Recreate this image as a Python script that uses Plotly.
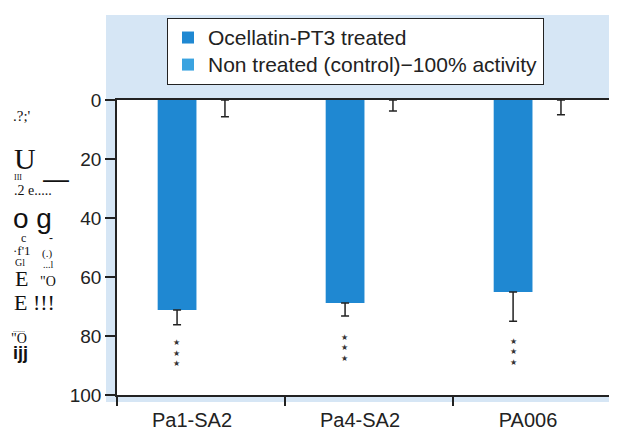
import plotly.graph_objects as go

categories = ["Pa1-SA2", "Pa4-SA2", "PA006"]
treated = [71.2, 68.8, 65.1]
treated_err = [5.0, 4.4, 9.9]
control = [0, 0, 0]
control_err = [5.7, 3.7, 5.0]
star_y = [85.8, 84.0, 85.4]
y_ticks = [0, 20, 40, 60, 80, 100]
series_names = ["Ocellatin-PT3 treated", "Non treated (control)\u2212100% activity"]

BAR = "#1f88d2"
CTRL = "#3aa3e0"
INK = "#222222"

# page has an 8px body margin: figure is drawn at (8, 8)
OFF = 8
W, H = 617 - OFF, 428 - OFF
L, R, T, B = 117 - OFF, 0, 100 - OFF, 33

def px(x, y):
    """reference-screen pixel -> paper coords"""
    x -= OFF
    y -= OFF
    return (x - L) / (W - L - R), (H - B - y) / (H - T - B)

def big(name):
    return f"<span style='font-size:21px'>{name}</span>"

fig = go.Figure()
fig.add_trace(go.Bar(
    x=categories, y=treated, name=big(series_names[0]),
    marker=dict(color=BAR, line=dict(width=0)),
    error_y=dict(type="data", array=treated_err, arrayminus=[0]*3, symmetric=False,
                 color=INK, thickness=1.5, width=4),
))
fig.add_trace(go.Bar(
    x=categories, y=control, name=big(series_names[1]),
    marker=dict(color=CTRL, line=dict(width=0)),
    error_y=dict(type="data", array=control_err, arrayminus=[0]*3, symmetric=False,
                 color=INK, thickness=1.5, width=4),
))

shapes = []
x0, y0 = px(106, 402)
x1, y1 = px(617, 15)
shapes.append(dict(type="rect", xref="paper", yref="paper", x0=x0, y0=y0, x1=x1, y1=y1,
                   fillcolor="#d6e6f5", line=dict(width=0), layer="below"))
shapes.append(dict(type="rect", xref="paper", yref="paper", x0=0, y0=0, x1=1, y1=1,
                   fillcolor="white", line=dict(width=0), layer="below"))

annotations = []
# significance stars
for i, yv in enumerate(star_y):
    for s in (-10.5, 0, 10.5):
        annotations.append(dict(x=i - 0.143, y=yv, xref="x", yref="y", text="\u2605",
                                showarrow=False, yshift=s,
                                font=dict(size=8, color="#333333", family="DejaVu Sans"),
                                xanchor="center", yanchor="middle"))

# garbled (scanned) y-axis title fragments
SERIF = "Liberation Serif"
SANS = "Liberation Sans"
frags = [
    (".?;'", 22, 116, 15, SERIF),
    ("U", 25, 158, 30, SERIF),
    ("\u2014", 56, 179, 26, SANS),
    ("III", 18, 177, 8, SERIF),
    (".2 e.....", 33, 190, 14, SERIF),
    ("o g", 32, 218, 28, SANS),
    ("c", 23, 238, 12, SERIF),
    ("-", 51, 238, 12, SANS),
    ("\u00b7f'1", 22, 250, 13, SERIF),
    ("(.)", 47, 253, 11, SERIF),
    ("Gl", 20, 263, 10, SERIF),
    ("...l", 48, 264, 10, SERIF),
    ("E", 21, 278, 22, SERIF),
    ("\"O", 48, 281, 14, SERIF),
    ("E !!!", 34, 302, 22, SERIF),
    ("......", 19, 329, 8, SERIF),
    ("\"O", 19, 338, 14, SERIF),
    ("<b>ijj</b>", 20, 353, 18, SANS),
]
for t, x, y, s, fam in frags:
    ax, ay = px(x, y)
    annotations.append(dict(x=ax, y=ay, xref="paper", yref="paper", text=t, showarrow=False,
                            font=dict(size=s, color="#111111", family=fam),
                            xanchor="center", yanchor="middle"))

fig.update_layout(
    width=W, height=H,
    margin=dict(l=L, r=R, t=T, b=B, pad=0, autoexpand=False),
    paper_bgcolor="white", plot_bgcolor="rgba(0,0,0,0)",
    barmode="group", bargap=0.43, bargroupgap=0.19,
    showlegend=True,
    legend=dict(x=(167 - OFF) / W, y=1 - (18 - OFF) / H, xanchor="left", yanchor="top",
                xref="container", yref="container",
                bgcolor="white", bordercolor=INK, borderwidth=1,
                font=dict(size=18.5, color=INK, family="Liberation Sans"),
                traceorder="normal"),
    shapes=shapes, annotations=annotations,
    font=dict(family="Liberation Sans", color=INK),
    xaxis=dict(type="category", range=[-0.5, 2.476], showline=True, mirror=True,
               linecolor=INK, linewidth=1.5, ticks="outside", tickson="boundaries",
               ticklen=9, tickcolor=INK, tickwidth=1.5, showgrid=False, zeroline=False,
               automargin=False, ticklabelstandoff=6,
               tickfont=dict(size=20, color=INK), ticklabelshift=-9),
    yaxis=dict(range=[100, 0], tickvals=y_ticks, showline=True, linecolor=INK,
               linewidth=1.5, ticks="outside", ticklen=10, tickcolor=INK, tickwidth=1.5,
               showgrid=False, zeroline=False, automargin=False,
               tickfont=dict(size=19, color=INK)),
)

fig.write_html("out.html")
